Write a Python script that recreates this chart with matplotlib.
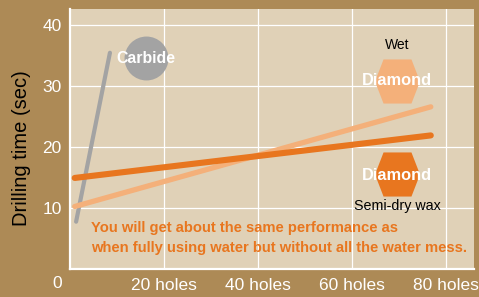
"""Drilling time vs number of holes: carbide vs diamond (wet / semi-dry wax)."""

import matplotlib

matplotlib.use("Agg")
import matplotlib.pyplot as plt

# Data (holes, drilling time in seconds).
carbide_holes = [1.3, 8.5]
carbide_time = [7.7, 35.5]
dry_wax_holes = [1.0, 76.8]
dry_wax_time = [14.9, 21.9]
wet_holes = [1.0, 76.8]
wet_time = [10.2, 26.6]

x_ticks = [20, 40, 60, 80]
x_tick_labels = ["20 holes", "40 holes", "60 holes", "80 holes"]
y_ticks = [10, 20, 30, 40]

BROWN = "#AD8A56"
PANEL = "#E0D1B7"
GRAY = "#A3A3A3"
ORANGE = "#E8761F"
LIGHT_ORANGE = "#F4B07A"

plt.rcParams["font.family"] = ["Liberation Sans", "DejaVu Sans"]

fig = plt.figure(figsize=(4.79, 2.97), dpi=100, facecolor=BROWN)
ax = fig.add_axes([70 / 479, 28.5 / 297, 404 / 479, 259.5 / 297])
ax.set_facecolor(PANEL)
ax.set_xlim(0, 86.0)
ax.set_ylim(0, 42.7)

ax.grid(True, color="white", lw=0.9, zorder=1)
for side in ("top", "right"):
    ax.spines[side].set_visible(False)
for side in ("left", "bottom"):
    ax.spines[side].set_color("white")
    ax.spines[side].set_linewidth(1.6)

ax.set_xticks(x_ticks)
ax.set_xticklabels(x_tick_labels)
ax.set_yticks(y_ticks)
ax.tick_params(length=0, colors="white", labelsize=12.5)
ax.tick_params(axis="x", pad=7)
ax.tick_params(axis="y", pad=6)

# --- lines ---
ax.plot(carbide_holes, carbide_time, color=GRAY, lw=3.0, solid_capstyle="round", zorder=3)
ax.plot(wet_holes, wet_time, color=LIGHT_ORANGE, lw=3.8, solid_capstyle="round", zorder=3)
ax.plot(dry_wax_holes, dry_wax_time, color=ORANGE, lw=4.4, solid_capstyle="round", zorder=4)

# --- badges ---
hexagon = [(-1, 0), (-0.62, 0.98), (0.62, 0.98), (1, 0), (0.62, -0.98), (-0.62, -0.98), (-1, 0)]
ax.scatter([16.2], [34.7], s=1000, color=GRAY, lw=0, zorder=2)
ax.text(16.1, 34.6, "Carbide", color="white", fontsize=11.4, fontweight="bold",
        ha="center", va="center", zorder=5)

ax.scatter([69.6], [30.9], s=1050, marker=hexagon, color=LIGHT_ORANGE, lw=0, zorder=2)
ax.text(69.6, 30.9, "Diamond", color="white", fontsize=11.8, fontweight="bold",
        ha="center", va="center", zorder=5)
ax.text(69.6, 36.7, "Wet", color="black", fontsize=10, ha="center", va="center")

ax.scatter([69.6], [15.6], s=1050, marker=hexagon, color=ORANGE, lw=0, zorder=2)
ax.text(69.6, 15.3, "Diamond", color="white", fontsize=11.8, fontweight="bold",
        ha="center", va="center", zorder=5)
ax.text(69.6, 10.3, "Semi-dry wax", color="black", fontsize=10.3, ha="center", va="center")

ax.text(4.4, 5.0,
        "You will get about the same performance as\n"
        "when fully using water but without all the water mess.",
        color=ORANGE, fontsize=10.6, fontweight="bold", ha="left", va="center",
        linespacing=1.5, zorder=5)

fig.text(57 / 479, 1 - 283 / 297, "0", color="white", fontsize=12.5, ha="center", va="center")
fig.text(22 / 479, 1 - 148 / 297, "Drilling time (sec)", color="black", fontsize=14.5,
         rotation=90, ha="center", va="center")

fig.savefig("out.png", dpi=100, facecolor=BROWN)
